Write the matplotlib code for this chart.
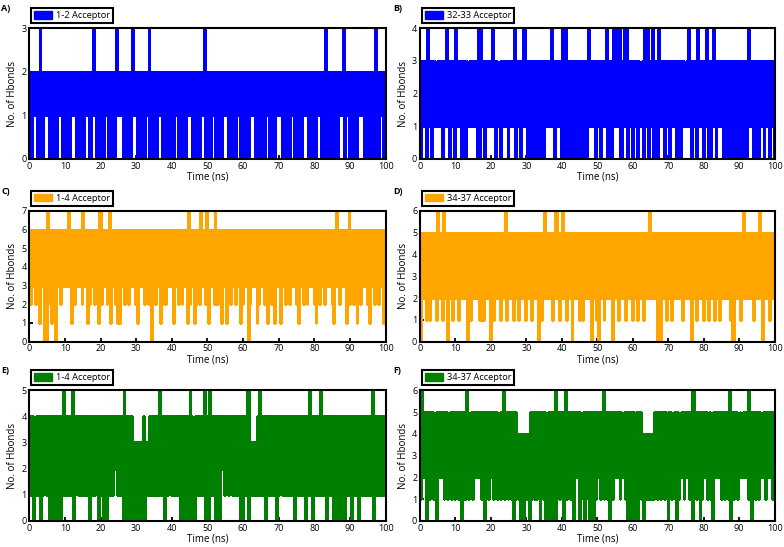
import numpy as np
import matplotlib.pyplot as plt
from matplotlib.patches import Patch

plt.rcParams['font.family'] = ['Open Sans', 'DejaVu Sans']
plt.rcParams['path.simplify'] = False  # keep every frame of the dense traces

# Hbond counts per frame (one digit = one frame, 0.25 ns)
A_VALUES = """
2020212120 2130202121 2120202021 2021212020 2020202121
2120202020 2021212020 2131202020 2020212120 2020202131
2121202020 2020213121 2020202120 2121302020 2020212120
2120202021 2021212020 2020202121 2120202020 2021213020
2020212120 2020202121 2120202020 2021212020 2020202121
2120202021 2020212120 2020202121 2120202020 2021212020
2020202121 2120202020 2021212020 2130202120 2020202121
2130212120 2020202021 2121202020 2020212030 2021212020
"""
B_VALUES = """
3031313041 3130313121 3131303131 4130313130 4131313031
3031213131 3131304041 3130313131 3141303121 3031313130
3131314031 3130314141 3030313031 3031303030 3131313141
3031313130 4130403031 3030303130 3031303031 4131313031
3130313131 4031303141 3141403031 4140313130 3131303121
3041314031 3140313041 3131303131 3031313130 3130313121
3141303131 3041313130 3141303031 4130313131 3030303130
3031303030 3030313031 4131303130 3031313031 3130313130
"""
C_VALUES = """
6263636263 6163636060 7263616360 6363626363 6363736162
6263636362 7363616263 6362636172 7263636263 7163636261
6163636263 6263636362 6163636362 6362636063 6263636162
6362636363 6163636263 6263636172 6363616263 6273636272
6163636272 6263616363 6163626363 6263636162 6363606263
6363616263 6362636163 6263616363 6163636263 6263636362
6163636263 6263636362 6163626363 6263636362 6163736263
6363616272 6362636163 6263636362 6163636263 6263636163
"""
D_VALUES = """
5052525152 5152525251 6252516252 5052525152 5251525252
5250525152 5252525151 5152525250 5251525252 5152526152
5252515252 5152525251 5252515252 5250525152 6252525251
5262625152 6252515252 5052525251 5251525252 5250525251
5052525152 5252525052 5251525252 5152525251 5252515252
5152525262 5252525051 5052525152 5251525252 5252515252
5252505252 5152525251 5252515252 5152525152 5252525251
5050525252 5152625252 5252515252 5262505252 5251525252
"""
E_VALUES = """
4141403141 4140414241 4140414040 4040404151 4141414150
4142414141 4141414041 4141424041 4140404041 4141424241
4141405040 4140413031 3031303140 3131414141 4141415141
4041414241 4141414140 4140414041 5041304141 4141415041
4051414140 4140424241 4241424141 4141414040 4141505131
3131314151 4141404141 4141414041 4241414141 4141414041
4141414140 4141514041 4141415141 4140414141 4041404140
4140414141 4041414140 4141414141 4141504141 4141414141
"""
F_VALUES = """
5162525051 5152514250 5252525152 5142515251 5251525051
5162514251 5252525251 5150525152 5251525142 5152615251
5251505152 4140424041 4140515251 5152505251 5042505250
5260525152 5052615251 5150525250 5142505251 5052505152
5251526152 5150525152 5252515242 5150525052 5042505251
4041414141 4141525152 5152515240 5251425150 5142525152
5251526062 5152505152 5251425140 5252525251 5251525160
5251525142 5242525251 6150525152 5152425251 5252525152
"""

PANEL_TAGS = ["A)", "B)", "C)", "D)", "E)", "F)"]
SERIES_NAMES = ["1-2 Acceptor", "32-33 Acceptor", "1-4 Acceptor",
                "34-37 Acceptor", "1-4 Acceptor", "34-37 Acceptor"]
SERIES = [A_VALUES, B_VALUES, C_VALUES, D_VALUES, E_VALUES, F_VALUES]
Y_MAX = [3, 4, 7, 6, 5, 6]
COLORS = ["#0000ff", "#0000ff", "#ffa500", "#ffa500", "#008000", "#008000"]

W, H = 784, 547
COL_LEFT = [29.3, 420.0]
COL_WIDTH = [356.3, 354.7]
ROW_TOP = [28.3, 211.0, 390.3]
ROW_HEIGHT = 130.5

fig = plt.figure(figsize=(W / 100, H / 100), dpi=100)

for i in range(6):
    row, col = divmod(i, 2)
    left, top = COL_LEFT[col], ROW_TOP[row]
    ax = fig.add_axes([left / W, 1 - (top + ROW_HEIGHT) / H,
                       COL_WIDTH[col] / W, ROW_HEIGHT / H])

    y = np.array([int(c) for c in "".join(SERIES[i].split())])
    t = np.linspace(0, 100, len(y))
    ax.plot(t, y, color=COLORS[i], linewidth=1.0, drawstyle='steps-mid',
            antialiased=False)

    ax.set_xlim(0, 100)
    ax.set_ylim(0, Y_MAX[i])
    ax.set_xticks(range(0, 101, 10))
    ax.set_yticks(range(0, Y_MAX[i] + 1))
    ax.tick_params(direction='in', length=3, width=1.3, labelsize=6.5, pad=2,
                   top=False, right=False)
    for sp in ax.spines.values():
        sp.set_linewidth(1.5)
    ax.set_xlabel('Time (ns)', fontsize=7, labelpad=1)
    ax.set_ylabel('No. of Hbonds', fontsize=7, labelpad=2)

    leg = ax.legend(handles=[Patch(facecolor=COLORS[i], edgecolor=COLORS[i])],
                    labels=[SERIES_NAMES[i]], loc='lower left',
                    bbox_to_anchor=(0.005, 1.04), borderaxespad=0,
                    frameon=True, fancybox=False, framealpha=1,
                    edgecolor='black', fontsize=6.7, handlelength=2.0,
                    handleheight=0.8, borderpad=0.3, handletextpad=0.4)
    leg.get_frame().set_linewidth(1.5)

    fig.text((1 + 392 * col) / W, 1 - (top - 20) / H, PANEL_TAGS[i],
             fontsize=6.5, fontweight='bold', va='center', ha='left')

fig.savefig('out.png', dpi=100)
